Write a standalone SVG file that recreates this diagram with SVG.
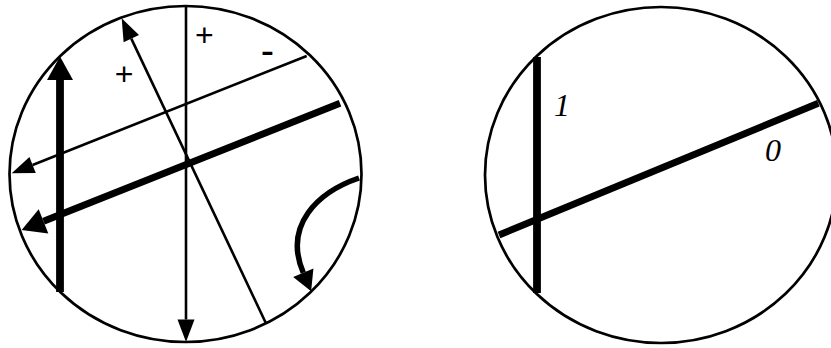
<svg xmlns="http://www.w3.org/2000/svg" width="831" height="348" viewBox="0 0 831 348">
<style>
.disc{fill:none;stroke:#000;stroke-width:2.7}
.thin{fill:none;stroke:#000;stroke-width:2.6}
.thick{fill:none;stroke:#000;stroke-width:7}
.vthick{fill:none;stroke:#000;stroke-width:7.8}
.curve{fill:none;stroke:#000;stroke-width:5.5}
.sign{font-family:"Liberation Sans",Arial,sans-serif;fill:#000;text-anchor:middle}
.num{font-family:"Liberation Serif","Times New Roman",serif;font-style:italic;font-size:32px;fill:#000;text-anchor:middle}
</style>
<defs>
<marker id="head-thin" markerUnits="userSpaceOnUse" markerWidth="24" markerHeight="18" viewBox="0 -9 24 18" refX="0" refY="0" orient="auto" overflow="visible"><path d="M0,-8.5 L22.5,0 L0,8.5 z" fill="#000"/></marker>
<marker id="head-thick" markerUnits="userSpaceOnUse" markerWidth="25" markerHeight="28" viewBox="0 -14 25 28" refX="0" refY="0" orient="auto" overflow="visible"><path d="M0,-13 L23.5,0 L0,13 z" fill="#000"/></marker>
<marker id="head-curve" markerUnits="userSpaceOnUse" markerWidth="22" markerHeight="24" viewBox="0 -12 22 24" refX="0" refY="0" orient="auto" overflow="visible"><path d="M0,-11 L20,0 L0,11 z" fill="#000"/></marker>
</defs>
<g id="left-disc">
<ellipse class="disc" cx="185.5" cy="174" rx="176" ry="168"/>
<g id="left-connectors">
<path class="thin" d="M186,6 L186,319.5" marker-end="url(#head-thin)"/>
<path class="thin" d="M265.7,322.7 L131.3,38.6" marker-end="url(#head-thin)"/>
<path class="thin" d="M306.7,56 L32.6,165" marker-end="url(#head-thin)"/>
<path class="thick" d="M340,103.3 L43.5,221.3" marker-end="url(#head-thick)"/>
<path class="vthick" d="M60,292 L60,80" marker-end="url(#head-thick)"/>
<path class="curve" d="M359,178 C318,192 283,225 303.3,272.8" marker-end="url(#head-curve)"/>
</g>
<text class="sign" x="204.3" y="46.4" font-size="32">+</text>
<text class="sign" x="124" y="85.4" font-size="32">+</text>
<text class="sign" x="267.5" y="63.5" font-size="40">-</text>
</g>
<g id="right-disc">
<ellipse class="disc" cx="661" cy="175" rx="176" ry="168"/>
<g id="right-connectors">
<path class="vthick" d="M537,57 L537,293"/>
<path class="thick" d="M499,235 L818.3,103.3"/>
</g>
<text class="num" x="562" y="116">1</text>
<text class="num" x="773" y="161">0</text>
</g>
</svg>
